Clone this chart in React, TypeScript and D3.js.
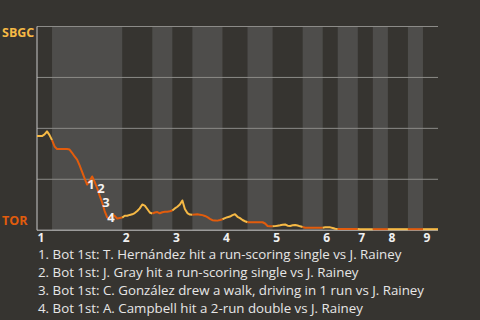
import React from "react";
import * as d3 from "d3";

const teams = ["SBGC", "TOR"];
const inningLabels = ["1", "2", "3", "4", "5", "6", "7", "8", "9"];
// pitches per half-inning (top 1, bottom 1, top 2, ...)
const halfInningPitches = [6, 28, 12, 8, 8, 12, 10, 10, 12, 8, 6, 8, 6, 6, 8, 6, 6];
// SBGC win probability after each pitch
const winProb = [
  0.462, 0.462, 0.462, 0.47, 0.485, 0.467, 0.442,
  0.411, 0.399, 0.399, 0.399, 0.399, 0.399, 0.396, 0.38, 0.362, 0.347, 0.318, 0.286, 0.254, 0.224,
  0.242, 0.264, 0.237, 0.207, 0.17, 0.136, 0.094, 0.063, 0.057, 0.077, 0.07, 0.057, 0.06, 0.062,
  0.071, 0.071, 0.075, 0.078, 0.084, 0.094, 0.107, 0.126, 0.121, 0.104, 0.087, 0.081,
  0.087, 0.089, 0.083, 0.088, 0.091, 0.091, 0.093, 0.097,
  0.107, 0.115, 0.126, 0.146, 0.104, 0.084, 0.077, 0.076,
  0.077, 0.078, 0.076, 0.074, 0.07, 0.064, 0.056, 0.049, 0.048, 0.047, 0.05, 0.054,
  0.059, 0.064, 0.067, 0.074, 0.078, 0.066, 0.059, 0.05, 0.044, 0.039,
  0.039, 0.039, 0.039, 0.039, 0.039, 0.039, 0.033, 0.021, 0.019, 0.019,
  0.02, 0.022, 0.024, 0.027, 0.028, 0.022, 0.021, 0.024, 0.026, 0.023, 0.019, 0.016,
  0.012, 0.012, 0.012, 0.012, 0.012, 0.012, 0.012, 0.012,
  0.014, 0.014, 0.014, 0.011, 0.007, 0.006,
  0.006, 0.006, 0.006, 0.006, 0.006, 0.006, 0.006, 0.006,
  0.005, 0.005, 0.005, 0.005, 0.005, 0.005,
  0.005, 0.005, 0.005, 0.005, 0.005, 0.005,
  0.005, 0.005, 0.005, 0.005, 0.005, 0.005, 0.005, 0.005,
  0.005, 0.005, 0.005, 0.005, 0.005, 0.005,
  0.005, 0.005, 0.005, 0.005, 0.005, 0.005,
];
const annotationIndex = [20, 24, 26, 28];
const annotationText = [
  "1. Bot 1st: T. Hernández hit a run-scoring single vs J. Rainey",
  "2. Bot 1st: J. Gray hit a run-scoring single vs J. Rainey",
  "3. Bot 1st: C. González drew a walk, driving in 1 run vs J. Rainey",
  "4. Bot 1st: A. Campbell hit a 2-run double vs J. Rainey",
];
const gridValues = [0.25, 0.5, 0.75, 1];

const W = 480;
const H = 320;
const BG = "#363430";
const BAND = "#4e4d4b";
const TOP_COLOR = "#f6b945";
const BOT_COLOR = "#e25c0c";
const FONT = "'Open Sans', 'Noto Sans', sans-serif";

export default function App() {
  const left = 37;
  const right = 438;
  const top = 26.5;
  const bottom = 230.2;
  const total = d3.sum(halfInningPitches);
  const x = d3.scaleLinear().domain([0, total]).range([left, right]);
  const y = d3.scaleLinear().domain([0, 1]).range([bottom, top]);

  const bounds: number[] = [0];
  halfInningPitches.forEach((n) => bounds.push(bounds[bounds.length - 1] + n));

  const line = d3
    .line<number>()
    .x((d) => x(d))
    .y((d) => y(winProb[d]));

  return (
    <svg
      width={W}
      height={H}
      style={{ position: "absolute", left: 0, top: 0, display: "block" }}
    >
      <rect x={0} y={0} width={W} height={H} fill={BG} />
      {halfInningPitches.map((n, i) =>
        i % 2 === 1 ? (
          <rect
            key={"b" + i}
            x={x(bounds[i])}
            y={top}
            width={x(bounds[i + 1]) - x(bounds[i])}
            height={bottom - top}
            fill={BAND}
          />
        ) : null
      )}
      {gridValues.map((g) => (
        <line
          key={"g" + g}
          x1={left}
          x2={right}
          y1={y(g)}
          y2={y(g)}
          stroke="#8c8b88"
          strokeWidth={1}
        />
      ))}
      <line x1={left} x2={left} y1={top} y2={bottom} stroke="#c8c8c8" strokeWidth={1} />
      <line x1={left} x2={right} y1={bottom} y2={bottom} stroke="#c8c8c8" strokeWidth={1} />
      {halfInningPitches.map((n, i) => {
        const idx = d3.range(bounds[i], bounds[i + 1] + 1);
        return (
          <path
            key={"l" + i}
            d={line(idx) || ""}
            fill="none"
            stroke={i % 2 === 0 ? TOP_COLOR : BOT_COLOR}
            strokeWidth={2}
            strokeLinejoin="round"
          />
        );
      })}
      {annotationIndex.map((a, i) => (
        <text
          key={"a" + i}
          x={x(a)}
          y={y(winProb[a])}
          dy="0.35em"
          fill="#f2f2f2"
          fontFamily={FONT}
          fontWeight="bold"
          fontSize={13}
        >
          {i + 1}
        </text>
      ))}
      <text x={2} y={33} dy="0.35em" fill={TOP_COLOR} fontFamily={FONT} fontWeight="bold" fontSize={12.5}>
        {teams[0]}
      </text>
      <text x={2} y={221} dy="0.35em" fill={BOT_COLOR} fontFamily={FONT} fontWeight="bold" fontSize={12.5}>
        {teams[1]}
      </text>
      {inningLabels.map((lab, i) => (
        <text
          key={"t" + i}
          x={x(bounds[i * 2]) + 4}
          y={237.5}
          dy="0.35em"
          textAnchor="middle"
          fill="#f0f0f0"
          fontFamily={FONT}
          fontWeight="bold"
          fontSize={12}
        >
          {lab}
        </text>
      ))}
      {annotationText.map((t, i) => (
        <text
          key={"n" + i}
          x={38}
          y={254.8 + i * 18}
          dy="0.35em"
          fill="#e6e6e6"
          fontFamily={FONT}
          fontSize={13.3}
        >
          {t}
        </text>
      ))}
    </svg>
  );
}
